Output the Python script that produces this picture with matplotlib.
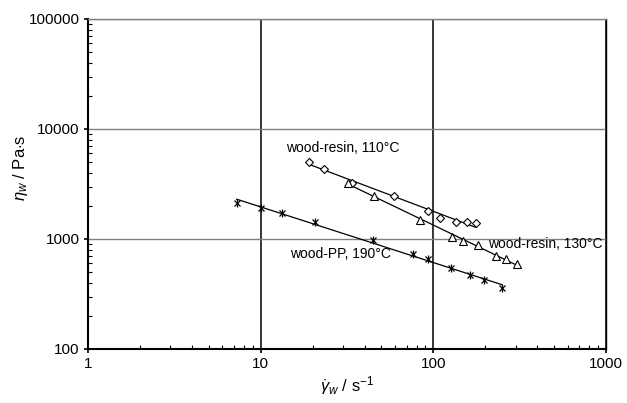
import numpy as np
import matplotlib
matplotlib.use('Agg')
import matplotlib.pyplot as plt

plt.rcParams['font.family'] = ['Liberation Sans', 'DejaVu Sans']
plt.rcParams['mathtext.fontset'] = 'custom'
plt.rcParams['mathtext.rm'] = 'Liberation Sans'
plt.rcParams['mathtext.it'] = 'Liberation Sans:italic'

# wood-resin, 110 C (diamonds)
rate_110 = [19.0, 23.2, 33.6, 58.9, 92.7, 109, 136, 157, 176]
visc_110 = [5040, 4330, 3210, 2480, 1786, 1553, 1429, 1429, 1406]

# wood-resin, 130 C (triangles)
rate_130 = [31.9, 45.1, 83.3, 129, 149, 182, 230, 263, 305]
visc_130 = [3251, 2480, 1479, 1049, 966, 888, 700, 658, 593]

# wood-PP, 190 C (asterisks)
rate_190 = [7.26, 10.1, 13.2, 20.6, 44.5, 76.5, 93.4, 127, 162, 196, 249]
visc_190 = [2138, 1914, 1714, 1419, 979, 731, 653, 542, 471, 424, 361]

labels = ['wood-resin, 110°C', 'wood-resin, 130°C', 'wood-PP, 190°C']
label_pos = [(30.0, 6710), (443, 901), (28.8, 731)]


def power_fit(x, y):
    # straight line in log-log space over the data range
    x = np.asarray(x, float)
    y = np.asarray(y, float)
    k, c = np.polyfit(np.log10(x), np.log10(y), 1)
    xs = np.array([x.min(), x.max()])
    return xs, 10 ** (c + k * np.log10(xs))


fig = plt.figure(figsize=(6.27, 4.03), dpi=100)
ax = fig.add_axes([0.1404, 0.134, 0.8261, 0.8189])

ax.set_xscale('log')
ax.set_yscale('log')
ax.set_xlim(1, 1000)
ax.set_ylim(100, 100000)

ax.grid(True, which='major', axis='y', color='#808080', lw=1.0)
ax.grid(True, which='major', axis='x', color='black', lw=1.1)
ax.set_axisbelow(True)

for x, y in [(rate_110, visc_110), (rate_130, visc_130), (rate_190, visc_190)]:
    xs, ys = power_fit(x, y)
    ax.plot(xs, ys, color='black', lw=0.9, zorder=3)

ax.plot(rate_110, visc_110, ls='none', marker='D', ms=4.2, mfc='white',
        mec='black', mew=0.8, zorder=4)
ax.plot(rate_130, visc_130, ls='none', marker='^', ms=5.3, mfc='white',
        mec='black', mew=0.8, zorder=4)
ax.plot(rate_190, visc_190, ls='none', marker='x', ms=5, mec='black',
        mew=0.9, zorder=4)
ax.plot(rate_190, visc_190, ls='none', marker='|', ms=5.5, mec='black',
        mew=0.9, zorder=4)

for text, (tx, ty) in zip(labels, label_pos):
    ax.text(tx, ty, text, fontsize=10, ha='center', va='center', zorder=5)

ax.set_xticks([1, 10, 100, 1000])
ax.set_xticklabels(['1', '10', '100', '1000'])
ax.set_yticks([100, 1000, 10000, 100000])
ax.set_yticklabels(['100', '1000', '10000', '100000'])
ax.tick_params(which='major', direction='out', length=3, width=1.2,
               labelsize=11, pad=3)
ax.tick_params(which='minor', direction='in', length=3, width=0.8)

ax.spines['left'].set_linewidth(1.5)
ax.spines['bottom'].set_linewidth(1.5)
ax.spines['right'].set_linewidth(1.0)
ax.spines['top'].set_color('#808080')
ax.spines['top'].set_linewidth(1.0)

ax.set_xlabel(r'$\dot{\gamma}_w$ / s$^{-1}$', fontsize=12, labelpad=2)
ax.set_ylabel(r'$\eta_w$ / Pa$\cdot$s', fontsize=12)
ax.yaxis.set_label_coords(-0.112, 0.55)

fig.savefig('out.png', dpi=100)
